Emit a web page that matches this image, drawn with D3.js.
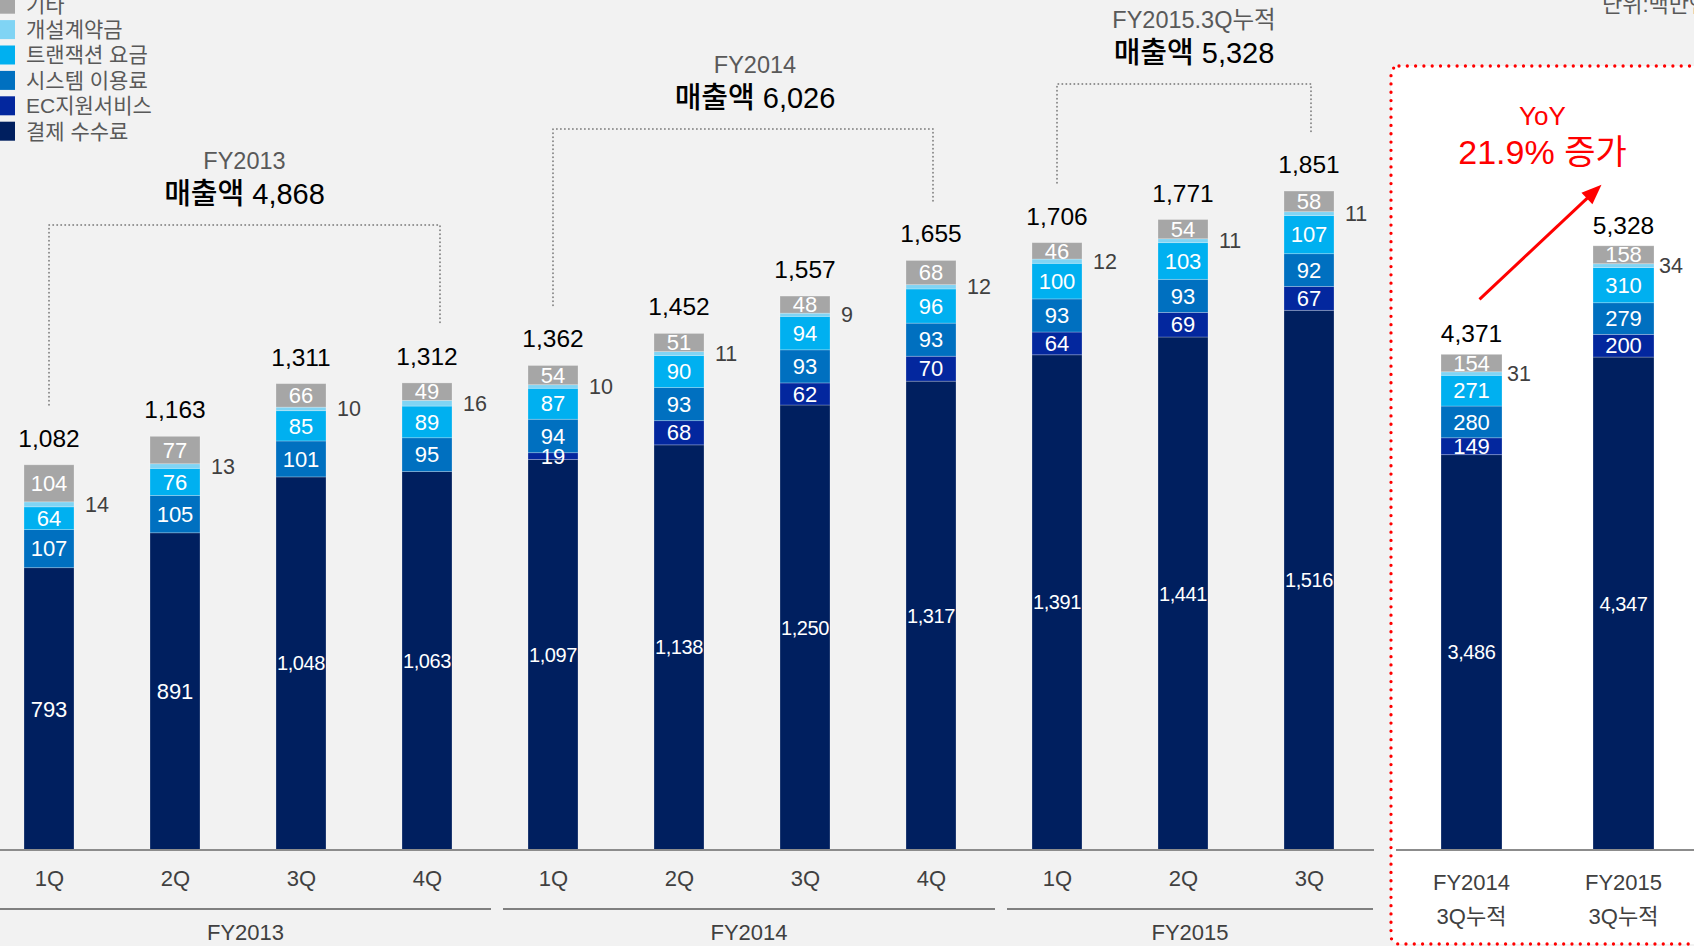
<!DOCTYPE html>
<html>
<head>
<meta charset="utf-8">
<script src="https://cdn.jsdelivr.net/npm/d3@7"></script>
<style>
  html, body { margin: 0; padding: 0; background: #f2f2f2; overflow: hidden; }
  svg { display: block; font-family: 'Liberation Sans', 'Noto Sans CJK KR', sans-serif; }
</style>
</head>
<body>
<svg width="1694" height="946"></svg>
<script>
// quarterly sales by segment (million yen)
var quarters = ['1Q', '2Q', '3Q', '4Q', '1Q', '2Q', '3Q', '4Q', '1Q', '2Q', '3Q'];
var quarterYear = ['FY2013', 'FY2013', 'FY2013', 'FY2013', 'FY2014', 'FY2014', 'FY2014', 'FY2014', 'FY2015', 'FY2015', 'FY2015'];
var payment = [793, 891, 1048, 1063, 1097, 1138, 1250, 1317, 1391, 1441, 1516];
var ecSupport = [0, 0, 0, 0, 19, 68, 62, 70, 64, 69, 67];
var system = [107, 105, 101, 95, 94, 93, 93, 93, 93, 93, 92];
var transaction = [64, 76, 85, 89, 87, 90, 94, 96, 100, 103, 107];
var contract = [14, 13, 10, 16, 10, 11, 9, 12, 12, 11, 11];
var other = [104, 77, 66, 49, 54, 51, 48, 68, 46, 54, 58];
var totals = [1082, 1163, 1311, 1312, 1362, 1452, 1557, 1655, 1706, 1771, 1851];

// 3Q cumulative
var cumYears = ['FY2014', 'FY2015'];
var cumPayment = [3486, 4347];
var cumEc = [149, 200];
var cumSystem = [280, 279];
var cumTransaction = [271, 310];
var cumContract = [31, 34];
var cumOther = [154, 158];
var cumTotals = [4371, 5328];

// yearly brackets
var fiscalYears = ['FY2013', 'FY2014', 'FY2015'];
var bracketTitles = ['FY2013', 'FY2014', 'FY2015.3Q누적'];
var yearSales = [4868, 6026, 5328];

var keys = ['payment', 'ec', 'system', 'transaction', 'contract', 'other'];
var legendNames = ['기타', '개설계약금', '트랜잭션 요금', '시스템 이용료', 'EC지원서비스', '결제 수수료'];
var legendKeys = ['other', 'contract', 'transaction', 'system', 'ec', 'payment'];
var color = {
    payment: '#001f5f',
    ec: '#03279e',
    system: '#0070c0',
    transaction: '#00b0f0',
    contract: '#80d4f4',
    other: '#a6a6a6'
};

var svg = d3.select('svg');
var W = +svg.attr('width'), H = +svg.attr('height');
var base = 850;
var fmt = d3.format(',');

svg.append('rect').attr('width', W).attr('height', H).attr('fill', '#f2f2f2');

// right box (cumulative)
var box = {x: 1391, y: 66};
svg.append('rect')
    .attr('x', box.x).attr('y', box.y)
    .attr('width', W - box.x + 20).attr('height', 944 - box.y)
    .attr('rx', 8)
    .attr('fill', '#ffffff')
    .attr('stroke', '#ff0000')
    .attr('stroke-width', 3.3)
    .attr('stroke-linecap', 'round')
    .attr('stroke-dasharray', '0 8.3');

// scales
var xq = d3.scalePoint().domain(d3.range(quarters.length)).range([49, 1309]);
var yq = d3.scaleLinear().domain([0, 2000]).range([base, base - 712]);
var xc = d3.scalePoint().domain(d3.range(cumYears.length)).range([1471.5, 1623.5]);
var yc = d3.scaleLinear().domain([0, 6000]).range([base, base - 680.4]);

var qRows = quarters.map(function(q, i) {
    return {i: i, payment: payment[i], ec: ecSupport[i], system: system[i],
        transaction: transaction[i], contract: contract[i], other: other[i]};
});
var cRows = cumYears.map(function(c, i) {
    return {i: i, payment: cumPayment[i], ec: cumEc[i], system: cumSystem[i],
        transaction: cumTransaction[i], contract: cumContract[i], other: cumOther[i]};
});
var stack = d3.stack().keys(keys);

function drawStack(series, x, y, bw, tot, sideGap, totalGap) {
    var g = svg.append('g');
    var layer = g.selectAll('.layer')
        .data(series)
        .enter().append('g')
        .attr('class', 'layer')
        .attr('fill', function(d) { return color[d.key]; });

    layer.selectAll('rect')
        .data(function(d) { return d; })
        .enter().append('rect')
        .attr('x', function(d) { return x(d.data.i) - bw / 2; })
        .attr('y', function(d) { return y(d[1]); })
        .attr('width', bw)
        .attr('height', function(d) { return y(d[0]) - y(d[1]); })
        .attr('stroke', 'rgba(255,255,255,0.3)')
        .attr('stroke-width', 0.8);

    // labels inside segments, contract fee beside the bar
    series.forEach(function(s) {
        var pts = s.filter(function(d) { return d[1] - d[0] > 0; });
        if (s.key === 'contract') {
            g.selectAll(null).data(pts).enter().append('text')
                .attr('x', function(d) { return x(d.data.i) + bw / 2 + sideGap; })
                .attr('y', function(d) { return y((d[0] + d[1]) / 2); })
                .attr('dy', '0.35em')
                .attr('fill', '#404040')
                .style('font-size', '21.5px')
                .text(function(d) { return fmt(d[1] - d[0]); });
            return;
        }
        g.selectAll(null).data(pts).enter().append('text')
            .attr('x', function(d) { return x(d.data.i); })
            .attr('y', function(d) { return y((d[0] + d[1]) / 2); })
            .attr('dy', '0.35em')
            .attr('text-anchor', 'middle')
            .attr('fill', '#ffffff')
            .style('font-size', function(d) { return (d[1] - d[0]) >= 1000 ? '20px' : '22px'; })
            .style('letter-spacing', function(d) { return (d[1] - d[0]) >= 1000 ? '-0.4px' : null; })
            .text(function(d) { return fmt(d[1] - d[0]); });
    });

    // totals
    var top = series[series.length - 1];
    g.selectAll(null).data(top).enter().append('text')
        .attr('x', function(d) { return x(d.data.i); })
        .attr('y', function(d) { return y(d[1]) - totalGap; })
        .attr('text-anchor', 'middle')
        .attr('fill', '#000')
        .style('font-size', '24.5px')
        .text(function(d) { return fmt(tot[d.data.i]); });
}

drawStack(stack(qRows), xq, yq, 50, totals, 11, 18);
drawStack(stack(cRows), xc, yc, 61, cumTotals, 5, 12);

// baselines
svg.append('line').attr('x1', 0).attr('x2', 1374).attr('y1', base).attr('y2', base)
    .attr('stroke', '#8c8c8c').attr('stroke-width', 2);
svg.append('line').attr('x1', 1396).attr('x2', W).attr('y1', base).attr('y2', base)
    .attr('stroke', '#8c8c8c').attr('stroke-width', 2);

// quarter axis
var axisQ = d3.axisBottom(xq).tickSize(0).tickPadding(20)
    .tickFormat(function(i) { return quarters[i]; });
var axG = svg.append('g').attr('transform', 'translate(0,' + base + ')').call(axisQ);
axG.select('.domain').remove();
axG.selectAll('text')
    .attr('fill', '#404040')
    .style('font-size', '22px')
    .style('font-family', "'Liberation Sans', 'Noto Sans CJK KR', sans-serif");

// fiscal year groups
fiscalYears.forEach(function(fy) {
    var idx = d3.range(quarters.length).filter(function(i) { return quarterYear[i] === fy; });
    var x1 = Math.max(0, xq(idx[0]) - 50);
    var x2 = xq(idx[idx.length - 1]) + 64;
    svg.append('line').attr('x1', x1).attr('x2', x2).attr('y1', 909).attr('y2', 909)
        .attr('stroke', '#808080').attr('stroke-width', 2);
    svg.append('text')
        .attr('x', (x1 + x2) / 2).attr('y', 932).attr('dy', '0.35em')
        .attr('text-anchor', 'middle').attr('fill', '#404040')
        .style('font-size', '22px')
        .text(fy);
});

// cumulative axis labels
cumYears.forEach(function(c, i) {
    var t = svg.append('text').attr('text-anchor', 'middle').attr('fill', '#404040')
        .style('font-size', '22px');
    t.append('tspan').attr('x', xc(i)).attr('y', 882).attr('dy', '0.35em').text(c);
    t.append('tspan').attr('x', xc(i)).attr('y', 916).attr('dy', '0.35em').text('3Q누적');
});

// yearly brackets
var bracketTop = [225, 129, 84];
var textShift = [0, 12, 10];
fiscalYears.forEach(function(fy, k) {
    var idx = d3.range(quarters.length).filter(function(i) { return quarterYear[i] === fy; });
    var i0 = idx[0], i1 = idx[idx.length - 1];
    var xa = xq(i0), xb = xq(i1) + (k === 0 ? 13 : 2);
    var ya = yq(totals[i0]) - 60, yb = yq(totals[i1]) - 57;
    var ty = bracketTop[k];
    svg.append('path')
        .attr('d', 'M' + xa + ',' + ya + 'V' + ty + 'H' + xb + 'V' + yb)
        .attr('fill', 'none')
        .attr('stroke', '#8c8c8c')
        .attr('stroke-width', 2)
        .attr('stroke-linecap', 'round')
        .attr('stroke-dasharray', '0 4');
    var cx = (xa + xb) / 2 + textShift[k];
    svg.append('text').attr('x', cx).attr('y', ty - 64).attr('dy', '0.35em')
        .attr('text-anchor', 'middle').attr('fill', '#595959')
        .style('font-size', '23.5px')
        .text(bracketTitles[k]);
    svg.append('text').attr('x', cx).attr('y', ty - 31).attr('dy', '0.35em')
        .attr('text-anchor', 'middle').attr('fill', '#000')
        .style('font-size', '29px')
        .style('font-weight', 500)
        .text('매출액 ' + fmt(yearSales[k]));
});

// YoY arrow
var a0 = [xc(0) + 8, yc(cumTotals[0]) - 55];
var a1 = [xc(1) - 22, yc(cumTotals[1]) - 61];
var dx = a1[0] - a0[0], dyy = a1[1] - a0[1], len = Math.sqrt(dx * dx + dyy * dyy);
var ux = dx / len, uy = dyy / len;
var headL = 20, headW = 8;
var bx = a1[0] - ux * headL, by = a1[1] - uy * headL;
svg.append('line')
    .attr('x1', a0[0]).attr('y1', a0[1]).attr('x2', bx + ux * 2).attr('y2', by + uy * 2)
    .attr('stroke', '#ff0000').attr('stroke-width', 3);
svg.append('path')
    .attr('d', 'M' + a1[0] + ',' + a1[1] +
        'L' + (bx - uy * headW) + ',' + (by + ux * headW) +
        'L' + (bx + uy * headW) + ',' + (by - ux * headW) + 'Z')
    .attr('fill', '#ff0000');

var yoyX = (xc(0) + xc(1)) / 2 - 5;
svg.append('text').attr('x', yoyX).attr('y', 125).attr('text-anchor', 'middle')
    .attr('fill', '#ff0000').style('font-size', '26px').text('YoY');
svg.append('text').attr('x', yoyX).attr('y', 164).attr('text-anchor', 'middle')
    .attr('fill', '#ff0000').style('font-size', '34px').text('21.9% 증가');

// unit
svg.append('text').attr('x', 1602).attr('y', 12)
    .attr('fill', '#595959').style('font-size', '22px').text('단위:백만엔');

// legend
var legend = svg.append('g');
legendKeys.forEach(function(k, i) {
    var cy = 4.2 + i * 25.4;
    legend.append('rect').attr('x', -5).attr('y', cy - 9.5).attr('width', 20).attr('height', 19)
        .attr('fill', color[k]);
    legend.append('text').attr('x', 26).attr('y', cy).attr('dy', '0.35em')
        .attr('fill', '#595959').style('font-size', '21px').text(legendNames[i]);
});
</script>
</body>
</html>
